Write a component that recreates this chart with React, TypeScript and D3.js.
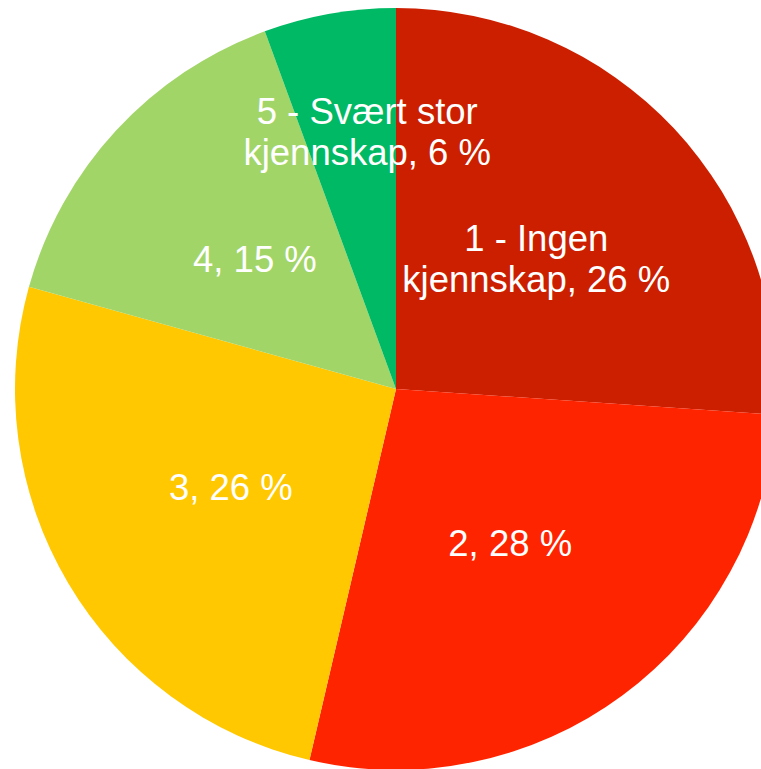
import React from "react";
import * as d3 from "d3";

const categories = ["1 - Ingen kjennskap", "2", "3", "4", "5 - Svært stor kjennskap"];
const values = [26.1, 27.6, 25.7, 15.1, 5.6];
const labelLines = [
  ["1 - Ingen", "kjennskap, 26 %"],
  ["2, 28 %"],
  ["3, 26 %"],
  ["4, 15 %"],
  ["5 - Svært stor", "kjennskap, 6 %"],
];
const colors = ["#CC1F00", "#FF2400", "#FFC800", "#A2D568", "#00B964"];

const W = 761;
const H = 769;
const cx = 396;
const cy = 389;
const R = 381;
const fontSize = 36.5;
const lineH = 41;

export default function App() {
  const data = categories.map((c, i) => ({ c, v: values[i], i }));
  const pie = d3.pie<any>().value((d) => d.v).sort(null);
  const arcs = pie(data);
  const arc = d3.arc<any>().innerRadius(0).outerRadius(R);
  const labelArc = d3.arc<any>().innerRadius(192).outerRadius(192);
  const outerLabelArc = d3.arc<any>().innerRadius(262).outerRadius(262);

  return (
    <svg
      width={W}
      height={H}
      style={{ position: "absolute", left: 0, top: 0, display: "block" }}
    >
      <rect width={W} height={H} fill="#ffffff" />
      <g transform={`translate(${cx},${cy})`}>
        {arcs.map((a, i) => (
          <path key={i} d={arc(a) as string} fill={colors[i]} />
        ))}
        {arcs.map((a, i) => {
          const small = a.endAngle - a.startAngle < 0.5;
          let [x, y] = (small ? outerLabelArc : labelArc).centroid(a);
          if (small) x += 17;
          const lines = labelLines[i];
          const y0 = y - ((lines.length - 1) * lineH) / 2 + fontSize * 0.36;
          return (
            <text
              key={i}
              x={x}
              textAnchor="middle"
              fill="#ffffff"
              fontFamily="'Liberation Sans', Arial, sans-serif"
              fontSize={fontSize}
            >
              {lines.map((l, j) => (
                <tspan key={j} x={x} y={y0 + j * lineH}>
                  {l}
                </tspan>
              ))}
            </text>
          );
        })}
      </g>
    </svg>
  );
}
